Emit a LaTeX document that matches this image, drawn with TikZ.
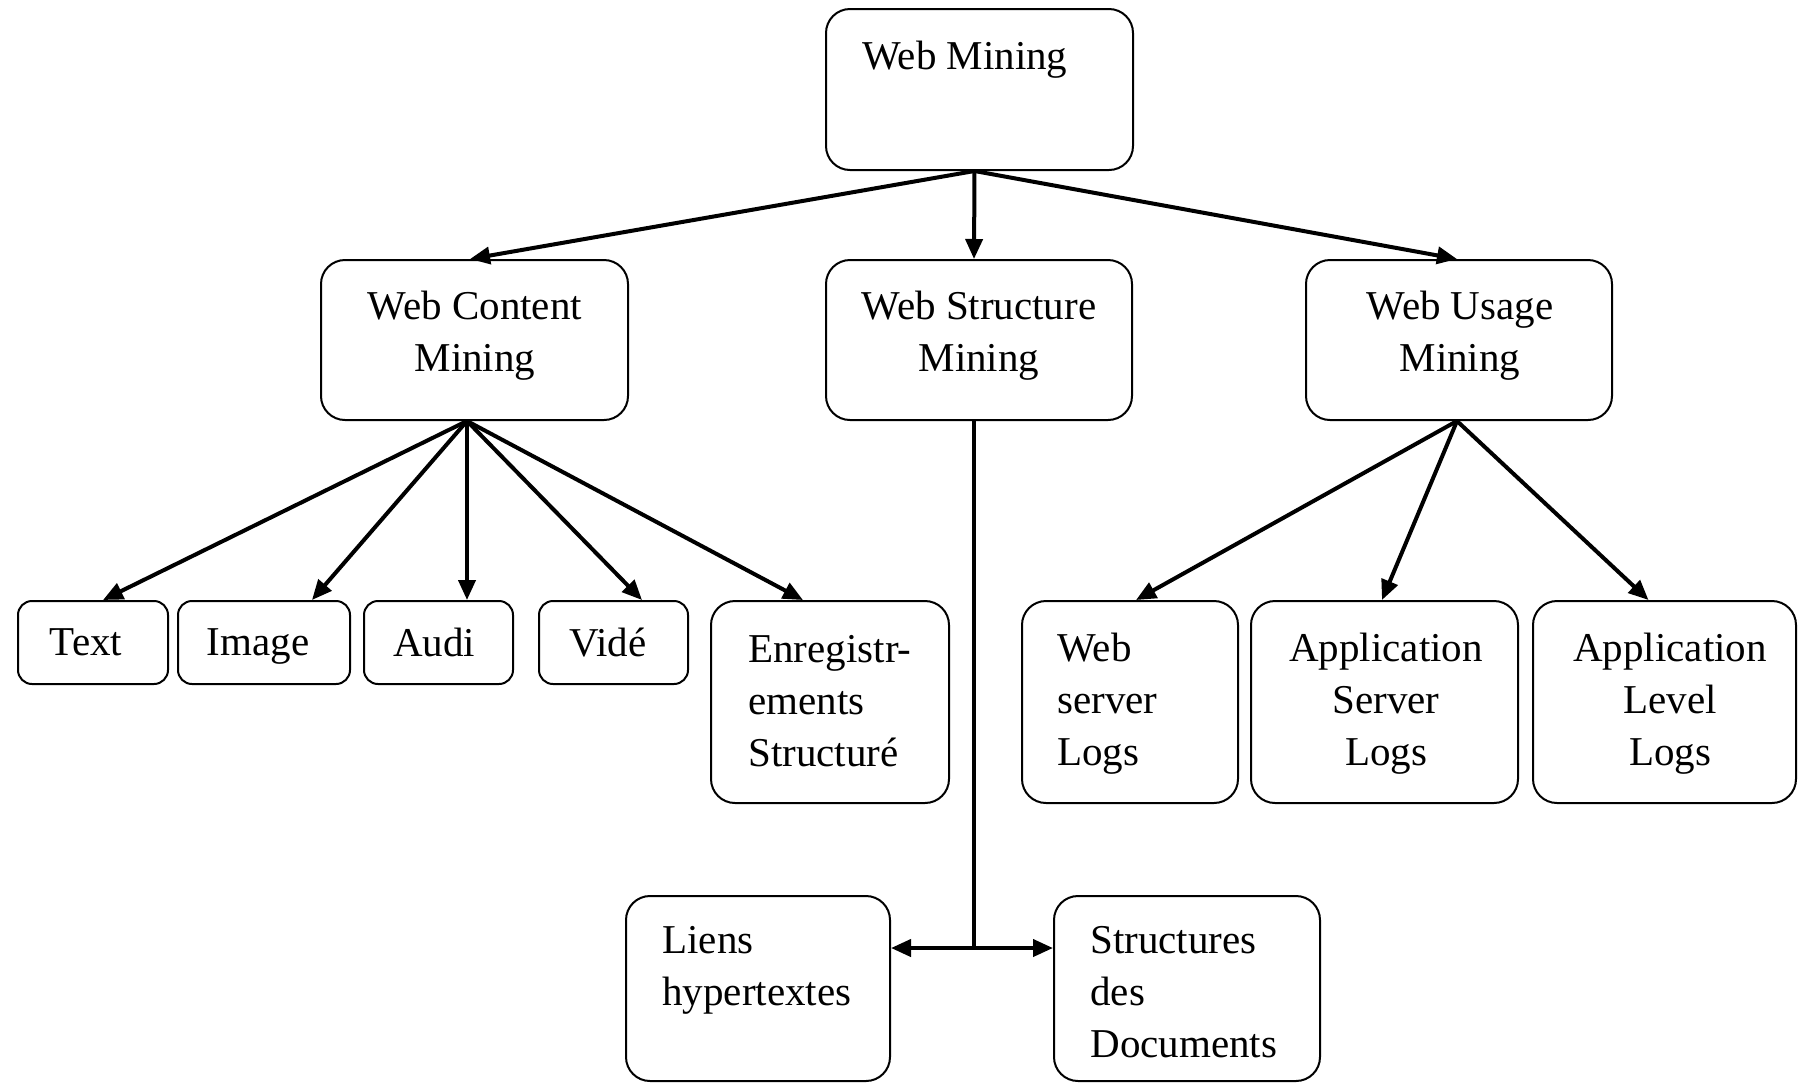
\documentclass[tikz,border=0pt]{standalone}
\usepackage{fontspec}
\setmainfont{Liberation Serif}
\usetikzlibrary{arrows.meta,calc,fit}
\begin{document}
\begin{tikzpicture}[x=0.5pt,y=-0.5pt,
  box/.style={draw, line width=1pt, rounded corners=12pt, inner sep=0pt},
  smallbox/.style={box, rounded corners=7pt},
  lbl/.style={inner sep=0pt, font=\fontsize{20.5}{26}\selectfont},
  conn/.style={line width=2pt},
  arr/.style={conn, -{Triangle[length=10pt,width=8.5pt]}}]

\useasboundingbox (0,0) rectangle (1799,1083);

% ---- boxes ----
\node[box, fit={(826,9) (1133,170)}] (wm) {};
\node[box, fit={(321,260) (628,420)}] (wcm) {};
\node[box, fit={(826,260) (1132,420)}] (wsm) {};
\node[box, fit={(1306,260) (1612,420)}] (wum) {};

\node[smallbox, fit={(18,601) (168,684)}] (txt) {};
\node[smallbox, fit={(178,601) (350,684)}] (img) {};
\node[smallbox, fit={(364,601) (513,684)}] (aud) {};
\node[smallbox, fit={(539,601) (688,684)}] (vid) {};
\node[box, fit={(711,601) (949,803)}] (enr) {};

\node[box, fit={(1022,601) (1238,803)}] (wsl) {};
\node[box, fit={(1251,601) (1518,803)}] (asl) {};
\node[box, fit={(1533,601) (1796,803)}] (all) {};

\node[box, fit={(626,896) (890,1081)}] (lie) {};
\node[box, fit={(1054,896) (1320,1081)}] (sdd) {};

% ---- labels ----
\node[lbl, anchor=north west] (wm-t) at (862,41) {Web Mining};
\node[lbl, anchor=north, align=center] (wcm-t) at (475,291) {Web Content\\Mining};
\node[lbl, anchor=north, align=center] (wsm-t) at (979,291) {Web Structure\\Mining};
\node[lbl, anchor=north, align=center] (wum-t) at (1460,291) {Web Usage\\Mining};

\node[lbl, anchor=north] (txt-t) at (86,628) {Text};
\node[lbl, anchor=north] (img-t) at (258,628) {Image};
\node[lbl, anchor=north] (aud-t) at (434,628) {Audi};
\node[lbl, anchor=north] (vid-t) at (608,628) {Vidé};
\node[lbl, anchor=north west, align=left] (enr-t) at (748,635) {Enregistr-\\ements\\Structuré};

\node[lbl, anchor=north west, align=left] (wsl-t) at (1057,633) {Web\\server\\Logs};
\node[lbl, anchor=north, align=center] (asl-t) at (1386,633) {Application\\Server\\Logs};
\node[lbl, anchor=north, align=center] (all-t) at (1670,633) {Application\\Level\\Logs};

\node[lbl, anchor=north west, align=left] (lie-t) at (662,926) {Liens\\hypertextes};
\node[lbl, anchor=north west, align=left] (sdd-t) at (1090,926) {Structures\\des\\Documents};

% ---- connectors ----
\coordinate (wmhub) at ($(wm.south)+(-5,0)$);
\draw[arr] (wmhub) -- ($(wcm.north)+(-4.5,0)$);
\draw[arr] (wmhub) -- ($(wsm.north)+(-5,0)$);
\draw[arr] (wmhub) -- ($(wum.north)+(-2,0)$);

\coordinate (wcmhub) at ($(wcm.south)+(-7.5,0)$);
\draw[arr] (wcmhub) -- ($(txt.north)+(10,0)$);
\draw[arr] (wcmhub) -- ($(img.north)+(48,0)$);
\draw[arr] (wcmhub) -- ($(aud.north)+(28.5,0)$);
\draw[arr] (wcmhub) -- ($(vid.north)+(28.5,0)$);
\draw[arr] (wcmhub) -- ($(enr.north)+(-27,0)$);

\coordinate (wumhub) at ($(wum.south)+(-2,0)$);
\draw[arr] (wumhub) -- ($(wsl.north)+(6,0)$);
\draw[arr] (wumhub) -- ($(asl.north)+(-2.5,0)$);
\draw[arr] (wumhub) -- ($(all.north)+(-16,0)$);

\coordinate (jn) at (974,948);
\draw[conn, line width=2.3pt] ($(wsm.south)+(-5,0)$) -- (jn);
\draw[arr] (jn) -- (jn -| lie.east);
\draw[arr] (jn) -- (jn -| sdd.west);

\end{tikzpicture}
\end{document}
